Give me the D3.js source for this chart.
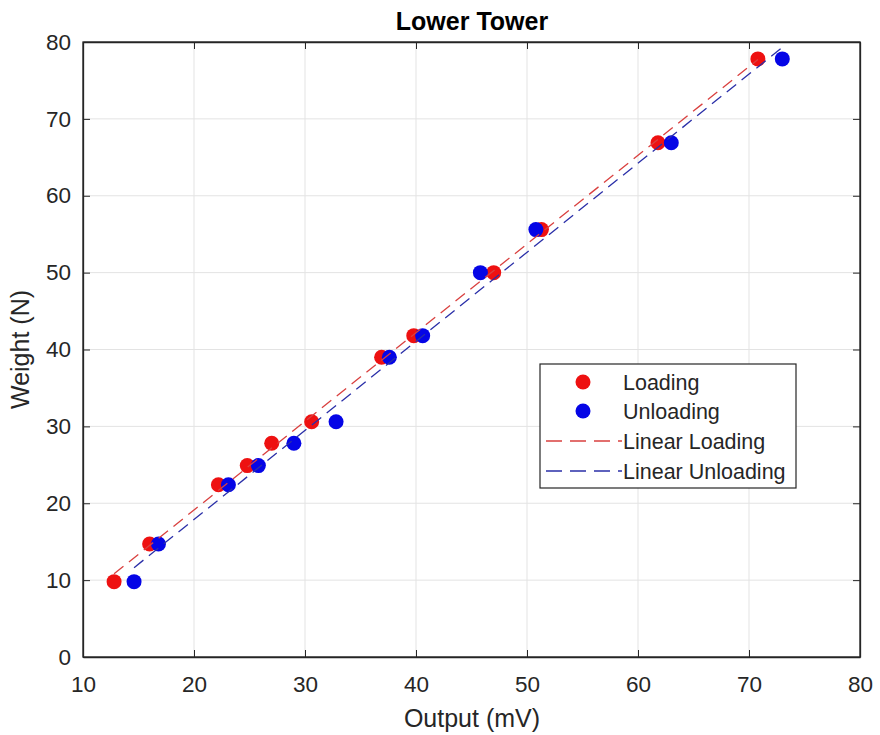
<!DOCTYPE html>
<html>
<head>
<meta charset="utf-8">
<script src="https://cdn.jsdelivr.net/npm/d3@7"></script>
<style>
  html, body { margin: 0; padding: 0; background: #fff; }
  svg { display: block; font-family: "Liberation Sans", Arial, Helvetica, sans-serif; }
</style>
</head>
<body>
<svg id="chart" width="880" height="735"></svg>
<script>
// ---- Data ----
const loadingX   = [12.8, 16.0, 22.2, 24.8, 27.0, 30.6, 36.9, 39.8, 47.0, 51.3, 61.8, 70.8];
const loadingY   = [9.8, 14.7, 22.4, 24.9, 27.8, 30.6, 39.0, 41.8, 50.0, 55.6, 66.9, 77.8];
const unloadingX = [14.6, 16.8, 23.1, 25.8, 29.0, 32.8, 37.6, 40.6, 45.8, 50.8, 63.0, 73.0];
const unloadingY = [9.8, 14.7, 22.4, 24.9, 27.8, 30.6, 39.0, 41.8, 50.0, 55.6, 66.9, 77.8];
const xTicks = [10, 20, 30, 40, 50, 60, 70, 80];
const yTicks = [0, 10, 20, 30, 40, 50, 60, 70, 80];
const legendLabels = ["Loading", "Unloading", "Linear Loading", "Linear Unloading"];

// ---- Layout ----
const svg = d3.select("#chart");
const L = 83, R = 860, T = 42, B = 657;
const x = d3.scaleLinear().domain([10, 80]).range([L, R]);
const y = d3.scaleLinear().domain([0, 80]).range([B, T]);

const red = "#ee1111", blue = "#0505e6";
const redLine = "#d9403f", blueLine = "#2a2fa8";
const textCol = "#262626";

// grid
const g = svg.append("g");
g.selectAll(".gx").data(xTicks).join("line")
  .attr("x1", d => x(d)).attr("x2", d => x(d)).attr("y1", T).attr("y2", B)
  .attr("stroke", "#e3e3e3").attr("stroke-width", 1);
g.selectAll(".gy").data(yTicks).join("line")
  .attr("y1", d => y(d)).attr("y2", d => y(d)).attr("x1", L).attr("x2", R)
  .attr("stroke", "#e3e3e3").attr("stroke-width", 1);

// axes (ticks inward on all four sides)
const fmt = d3.format("d");
const axB = svg.append("g").attr("transform", `translate(0,${B})`)
  .call(d3.axisBottom(x).tickValues(xTicks).tickFormat(fmt).tickSizeInner(-7).tickSizeOuter(0).tickPadding(19));
const axT = svg.append("g").attr("transform", `translate(0,${T})`)
  .call(d3.axisTop(x).tickValues(xTicks).tickFormat("").tickSizeInner(-7).tickSizeOuter(0));
const axLft = svg.append("g").attr("transform", `translate(${L},0)`)
  .call(d3.axisLeft(y).tickValues(yTicks).tickFormat(fmt).tickSizeInner(-7).tickSizeOuter(0).tickPadding(12));
const axRt = svg.append("g").attr("transform", `translate(${R},0)`)
  .call(d3.axisRight(y).tickValues(yTicks).tickFormat("").tickSizeInner(-7).tickSizeOuter(0));
[axB, axT, axLft, axRt].forEach(a => {
  a.select(".domain").attr("stroke", textCol).attr("stroke-width", 1.3);
  a.selectAll(".tick line").attr("stroke", textCol);
  a.selectAll("text").attr("font-size", 22.5).attr("fill", textCol)
    .attr("font-family", "'Liberation Sans', Arial, sans-serif");
});
svg.append("rect").attr("x", L).attr("y", T).attr("width", R - L).attr("height", B - T)
  .attr("fill", "none").attr("stroke", textCol).attr("stroke-width", 1.3);

// linear fits (least squares from the data)
function fit(xs, ys) {
  const n = xs.length, mx = d3.mean(xs), my = d3.mean(ys);
  let sxy = 0, sxx = 0;
  for (let i = 0; i < n; i++) { sxy += (xs[i] - mx) * (ys[i] - my); sxx += (xs[i] - mx) ** 2; }
  const m = sxy / sxx, b = my - m * mx;
  const x0 = d3.min(xs), x1 = d3.max(xs);
  return [[x0, m * x0 + b], [x1, m * x1 + b]];
}
const line = d3.line().x(d => x(d[0])).y(d => y(d[1]));
const plot = svg.append("g");

// points
const loadPts = loadingX.map((v, i) => [v, loadingY[i]]);
const unloadPts = unloadingX.map((v, i) => [v, unloadingY[i]]);
plot.selectAll(".pl").data(loadPts).join("circle")
  .attr("cx", d => x(d[0])).attr("cy", d => y(d[1])).attr("r", 7.5).attr("fill", red);
plot.selectAll(".pu").data(unloadPts).join("circle")
  .attr("cx", d => x(d[0])).attr("cy", d => y(d[1])).attr("r", 7.5).attr("fill", blue);

plot.append("path").attr("d", line(fit(loadingX, loadingY)))
  .attr("fill", "none").attr("stroke", redLine).attr("stroke-width", 1.3).attr("stroke-dasharray", "12,7");
plot.append("path").attr("d", line(fit(unloadingX, unloadingY)))
  .attr("fill", "none").attr("stroke", blueLine).attr("stroke-width", 1.3).attr("stroke-dasharray", "12,7");

// title and labels
svg.append("text").attr("x", 472).attr("y", 30).attr("text-anchor", "middle")
  .attr("font-size", 25).attr("font-weight", "bold").attr("fill", "#000").text("Lower Tower");
svg.append("text").attr("x", 472).attr("y", 727).attr("text-anchor", "middle")
  .attr("font-size", 25).attr("fill", textCol).text("Output (mV)");
svg.append("text").attr("transform", `translate(29,${(T + B) / 2}) rotate(-90)`).attr("text-anchor", "middle")
  .attr("font-size", 25).attr("fill", textCol).text("Weight (N)");

// legend
const lg = svg.append("g").attr("transform", "translate(540,364)");
lg.append("rect").attr("width", 256).attr("height", 124).attr("fill", "#fff")
  .attr("stroke", textCol).attr("stroke-width", 1.2);
const rows = [18, 47, 77, 107];
lg.append("circle").attr("cx", 43).attr("cy", rows[0]).attr("r", 7.5).attr("fill", red);
lg.append("circle").attr("cx", 43).attr("cy", rows[1]).attr("r", 7.5).attr("fill", blue);
lg.append("line").attr("x1", 6).attr("x2", 82).attr("y1", rows[2]).attr("y2", rows[2])
  .attr("stroke", redLine).attr("stroke-width", 1.3).attr("stroke-dasharray", "16,8");
lg.append("line").attr("x1", 6).attr("x2", 82).attr("y1", rows[3]).attr("y2", rows[3])
  .attr("stroke", blueLine).attr("stroke-width", 1.3).attr("stroke-dasharray", "16,8");
lg.selectAll(".lt").data(legendLabels).join("text")
  .attr("x", 83).attr("y", (d, i) => rows[i] + 8)
  .attr("font-size", 21.5).attr("fill", textCol).text(d => d);
</script>
</body>
</html>
